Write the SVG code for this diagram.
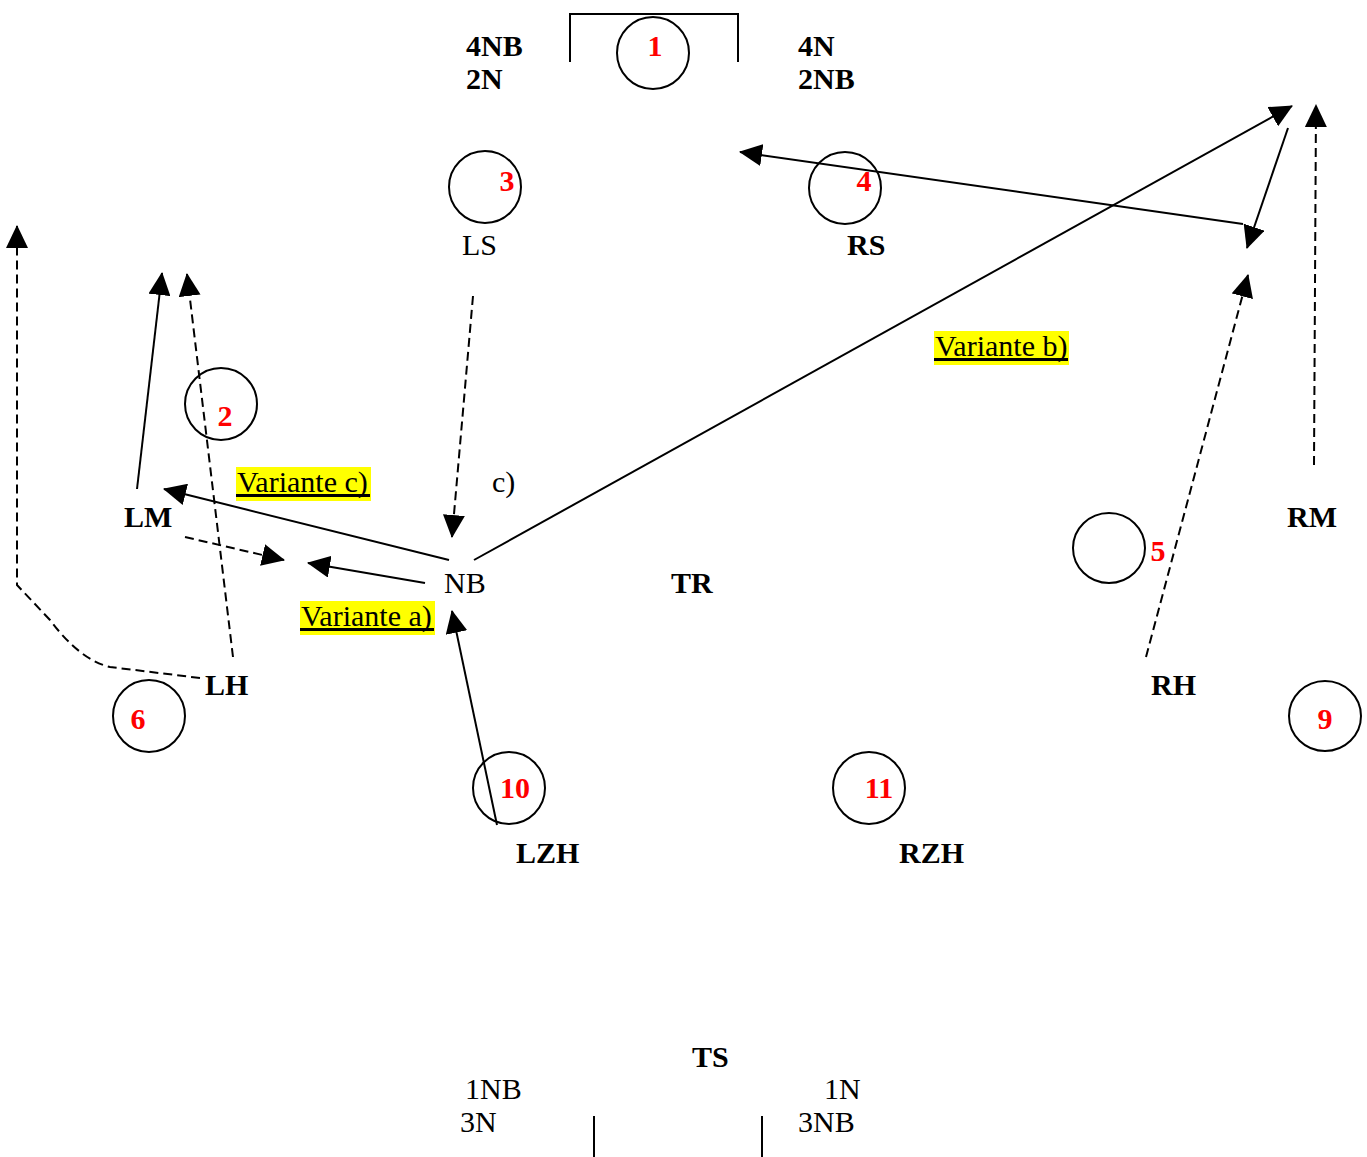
<svg xmlns="http://www.w3.org/2000/svg" width="1367" height="1157" viewBox="0 0 1367 1157">
<style>
.t{font-family:"Liberation Serif","Times New Roman",serif;font-size:30px;fill:#000}
.b{font-weight:bold}
.r{font-family:"Liberation Serif","Times New Roman",serif;font-size:30px;font-weight:bold;fill:#ff0000;text-anchor:middle}
.c{fill:none;stroke:#000;stroke-width:2}
.ln{fill:none;stroke:#000;stroke-width:2}
.d{stroke-dasharray:9 5}
.hl{fill:#ffff00}
</style>
<defs>
<marker id="ah" markerUnits="userSpaceOnUse" markerWidth="24" markerHeight="22" refX="22" refY="11" orient="auto">
<path d="M0,0 L23,11 L0,22 z" fill="#000"/>
</marker>
</defs>
<rect width="1367" height="1157" fill="#fff"/>

<g id="goal-top"><path class="ln" d="M570,62 V14 H738 V62"/></g>
<g id="goal-bottom"><path class="ln" d="M594,1116 V1157 M762,1116 V1157"/></g>

<g id="labels-top">
<text class="t b" x="466" y="56">4NB</text>
<text class="t b" x="466" y="89">2N</text>
<text class="t b" x="798" y="56">4N</text>
<text class="t b" x="798" y="89">2NB</text>
</g>

<g id="p1"><circle class="c" cx="653" cy="53" r="36"/><text class="r" x="655" y="56">1</text></g>
<g id="p3"><circle class="c" cx="485" cy="187" r="36"/><text class="r" x="507" y="191">3</text></g>
<g id="LS"><text class="t" x="462" y="255">LS</text></g>
<g id="p4"><circle class="c" cx="845" cy="188" r="36"/><text class="r" x="864" y="191">4</text></g>
<g id="RS"><text class="t b" x="847" y="255">RS</text></g>
<g id="p2"><circle class="c" cx="221" cy="404" r="36"/><text class="r" x="225" y="426">2</text></g>
<g id="LM"><text class="t b" x="124" y="527">LM</text></g>
<g id="NB"><text class="t" x="444" y="593">NB</text></g>
<g id="TR"><text class="t b" x="671" y="593">TR</text></g>
<g id="RM"><text class="t b" x="1287" y="527">RM</text></g>
<g id="p5"><ellipse class="c" cx="1109" cy="548" rx="36" ry="35"/><text class="r" x="1158" y="561">5</text></g>
<g id="LH"><text class="t b" x="205" y="695">LH</text></g>
<g id="RH"><text class="t b" x="1151" y="695">RH</text></g>
<g id="p6"><circle class="c" cx="149" cy="716" r="36"/><text class="r" x="138" y="729">6</text></g>
<g id="p9"><ellipse class="c" cx="1325" cy="716" rx="36" ry="35"/><text class="r" x="1325" y="729">9</text></g>
<g id="p10"><circle class="c" cx="509" cy="788" r="36"/><text class="r" x="515" y="798">10</text></g>
<g id="p11"><circle class="c" cx="869" cy="788" r="36"/><text class="r" x="879" y="798">11</text></g>
<g id="LZH"><text class="t b" x="516" y="863">LZH</text></g>
<g id="RZH"><text class="t b" x="899" y="863">RZH</text></g>
<g id="TS"><text class="t b" x="692" y="1067">TS</text></g>
<g id="labels-bottom">
<text class="t" x="465" y="1099">1NB</text>
<text class="t" x="460" y="1132">3N</text>
<text class="t" x="824" y="1099">1N</text>
<text class="t" x="798" y="1132">3NB</text>
</g>

<g id="variante-c"><rect class="hl" x="236" y="467" width="135" height="34"/><text class="t" x="237" y="492">Variante c)</text><rect x="236" y="494" width="134" height="3" fill="#000"/></g>
<g id="label-c"><text class="t" x="492" y="492">c)</text></g>
<g id="variante-a"><rect class="hl" x="300" y="601" width="135" height="34"/><text class="t" x="301" y="626">Variante a)</text><rect x="300" y="628" width="134" height="3" fill="#000"/></g>
<g id="variante-b"><rect class="hl" x="934" y="331" width="135" height="34"/><text class="t" x="935" y="356">Variante b)</text><rect x="934" y="358" width="134" height="3" fill="#000"/></g>

<g id="connectors">
<line class="ln d" x1="1314" y1="465" x2="1316" y2="105" marker-end="url(#ah)"/>
<line class="ln" x1="1243" y1="224" x2="740" y2="152" marker-end="url(#ah)"/>
<line class="ln" x1="1288" y1="128" x2="1247" y2="248" marker-end="url(#ah)"/>
<line class="ln" x1="474" y1="560" x2="1292" y2="106" marker-end="url(#ah)"/>
<line class="ln d" x1="1146" y1="657" x2="1248" y2="275" marker-end="url(#ah)"/>
<line class="ln d" x1="473" y1="296" x2="452" y2="537" marker-end="url(#ah)"/>
<line class="ln" x1="449" y1="560" x2="164" y2="489" marker-end="url(#ah)"/>
<line class="ln" x1="425" y1="583" x2="308" y2="563" marker-end="url(#ah)"/>
<line class="ln d" x1="185" y1="537" x2="284" y2="560" marker-end="url(#ah)"/>
<line class="ln" x1="497" y1="825" x2="452" y2="611" marker-end="url(#ah)"/>
<line class="ln" x1="137" y1="489" x2="162" y2="273" marker-end="url(#ah)"/>
<line class="ln d" x1="233" y1="657" x2="187" y2="274" marker-end="url(#ah)"/>
<path class="ln d" d="M200,678 L110,667 Q80,660 50,620 L17,585 V226" marker-end="url(#ah)"/>
</g>
</svg>
